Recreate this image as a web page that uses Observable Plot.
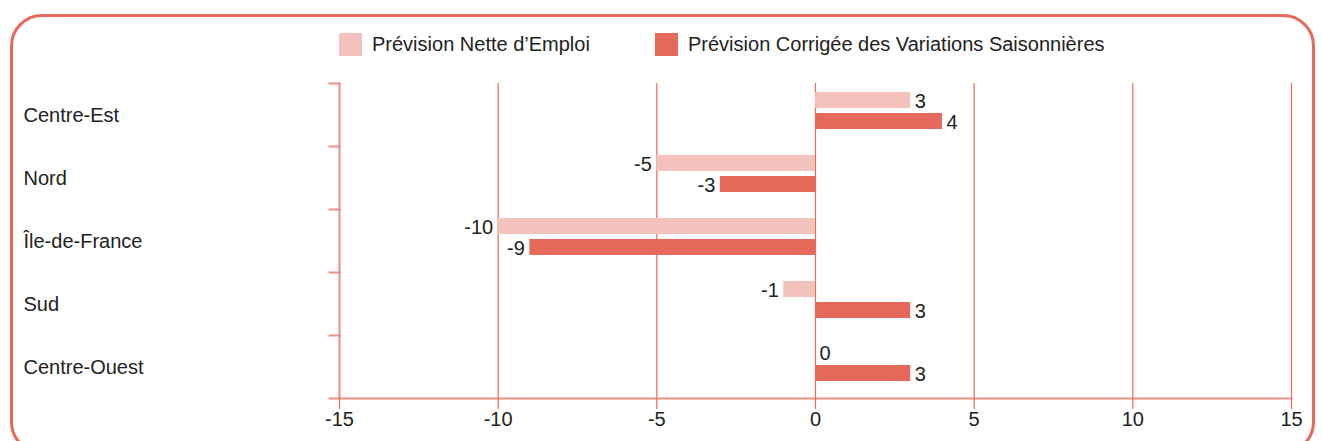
<!DOCTYPE html>
<html>
<head>
<meta charset="utf-8">
<script src="https://cdn.jsdelivr.net/npm/d3@7"></script>
<script src="https://cdn.jsdelivr.net/npm/@observablehq/plot@0.6"></script>
<style>
  html, body { margin: 0; padding: 0; background: #fff; }
  body { font-family: "Liberation Sans", Arial, Helvetica, sans-serif; color: #222; }
  #wrap { position: relative; width: 1322px; height: 441px; overflow: hidden; }
  #border { position: absolute; left: 10px; top: 14px; width: 1305px; height: 440px; border: 3px solid #e8685a; border-radius: 32px; pointer-events: none; box-sizing: border-box; }
  #legend { position: relative; height: 70px; }
  .item { position: absolute; top: 33px; display: flex; align-items: center; font-size: 20px; line-height: 23px; }
  .sw { width: 23px; height: 23px; margin-right: 10px; }
  svg { display: block; }
</style>
</head>
<body>
<div id="wrap">
  <div id="legend"></div>
  <div id="chart"></div>
  <div id="border"></div>
</div>
<script>
const regions = ["Centre-Est", "Nord", "Île-de-France", "Sud", "Centre-Ouest"];
const series = ["Prévision Nette d’Emploi", "Prévision Corrigée des Variations Saisonnières"];
const netValues = [3, -5, -10, -1, 0];
const adjustedValues = [4, -3, -9, 3, 3];
const xTicks = [-15, -10, -5, 0, 5, 10, 15];
const colors = ["#f3c2bc", "#e6685a"];

const data = [];
regions.forEach((r, i) => {
  data.push({region: r, series: series[0], value: netValues[i]});
  data.push({region: r, series: series[1], value: adjustedValues[i]});
});

// legend
const legend = document.getElementById("legend");
const legendLeft = [339, 655];
series.forEach((s, i) => {
  const it = document.createElement("div");
  it.className = "item";
  it.style.left = legendLeft[i] + "px";
  const sw = document.createElement("span");
  sw.className = "sw";
  sw.style.background = colors[i];
  const t = document.createElement("span");
  t.textContent = s;
  it.appendChild(sw); it.appendChild(t);
  legend.appendChild(it);
});

const W = 1322, H = 371, ML = 339, MR = 31, MT = 12, MB = 43;
const axisColor = "#ef8f85";
const gridColor = "#e8685a";
const FS = 20;

const chart = Plot.plot({
  width: W, height: H,
  marginLeft: ML, marginRight: MR, marginTop: MT, marginBottom: MB,
  style: {fontFamily: "'Liberation Sans', Arial, Helvetica, sans-serif", fontSize: FS + "px", color: "#222", background: "#fff"},
  x: {domain: [-15, 15], ticks: xTicks, axis: null},
  fy: {domain: regions, padding: 0, axis: null},
  y: {domain: series, paddingInner: 0.23, paddingOuter: 0.55, align: 0.33, axis: null},
  color: {domain: series, range: colors},
  marks: [
    Plot.gridX(xTicks, {stroke: gridColor, strokeOpacity: 1, strokeWidth: 1.2}),
    Plot.frame({anchor: "left", stroke: axisColor, strokeWidth: 2}),
    Plot.frame({anchor: "top", stroke: axisColor, strokeWidth: 2, insetLeft: -10, insetRight: W - ML - MR}),
    Plot.frame({anchor: "bottom", stroke: axisColor, strokeWidth: 2, insetLeft: -10, facetAnchor: "bottom"}),
    Plot.axisX(xTicks, {tickSize: 11, tickPadding: 2, stroke: gridColor, strokeWidth: 1.2, fontSize: FS, fill: "#222", label: null, tickFormat: d => String(d), facetAnchor: "bottom"}),
    Plot.barX(data, {x: "value", y: "series", fy: "region", fill: "series"}),
    Plot.text(data.filter(d => d.value >= 0), {x: "value", y: "series", fy: "region", text: d => String(d.value), textAnchor: "start", dx: 4, dy: 1, fontSize: FS, fill: "#222"}),
    Plot.text(data.filter(d => d.value < 0), {x: "value", y: "series", fy: "region", text: d => String(d.value), textAnchor: "end", dx: -5, dy: 1, fontSize: FS, fill: "#222"}),
    Plot.text(regions, {fy: d => d, text: d => d, frameAnchor: "left", textAnchor: "start", dx: 23 - ML, dy: 1, fontSize: FS, fill: "#222"})
  ]
});
document.getElementById("chart").appendChild(chart);
</script>
</body>
</html>
